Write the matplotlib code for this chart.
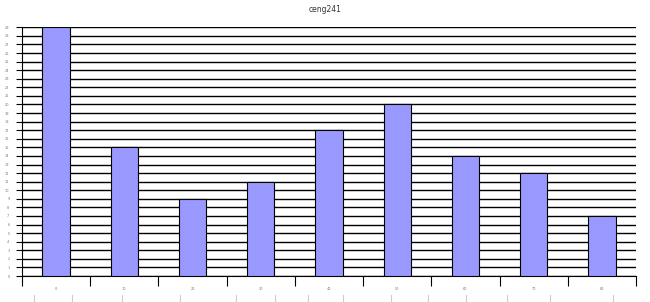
import matplotlib.pyplot as plt
import numpy as np

# data
categories = ['0', '10', '20', '30', '40', '50', '60', '70', '80']
counts = [29, 15, 9, 11, 17, 20, 14, 12, 7]
y_max = 29

fig = plt.figure(figsize=(6.5, 3.02), dpi=100)
ax = fig.add_axes([22/650, 26/302, (636-22)/650, (276-27.3)/302])

x = np.arange(len(categories))
ax.bar(x, counts, width=0.4, color='#9999ff', edgecolor='black', linewidth=0.8, zorder=3)

ax.set_xlim(-0.5, len(categories) - 0.5)
ax.set_ylim(0, y_max)

# horizontal gridlines at every unit
ax.set_yticks(np.arange(0, y_max + 1))
ax.set_yticklabels([str(v) for v in range(0, y_max + 1)], fontsize=2.5, color='#777777')
ax.yaxis.grid(True, color='black', linewidth=1.0, zorder=0)
ax.tick_params(axis='y', length=4, width=0.8, pad=5)

# category labels in the middle, tick marks between categories
ax.set_xticks(x)
ax.set_xticklabels(categories, fontsize=2.5, color='#777777')
ax.set_xticks(np.arange(-0.5, len(categories)), minor=True)
ax.tick_params(axis='x', which='major', length=0, pad=8)
ax.tick_params(axis='x', which='minor', length=7, width=0.8)

for side in ['top', 'right']:
    ax.spines[side].set_visible(False)
ax.spines['left'].set_linewidth(0.8)
ax.spines['bottom'].set_linewidth(0.8)

fig.text(0.5, 1 - 10/302, 'ceng241', ha='center', va='center', fontsize=5.5, color='#333333')

# faint table lines under the chart
for xp in [34, 72, 122, 180, 236, 275, 308, 343, 391, 428, 466, 507, 550, 613]:
    fig.add_artist(plt.Line2D([xp/650, xp/650], [0, 7/302], color='#cccccc', linewidth=0.8))

fig.savefig('out.png', dpi=100)
